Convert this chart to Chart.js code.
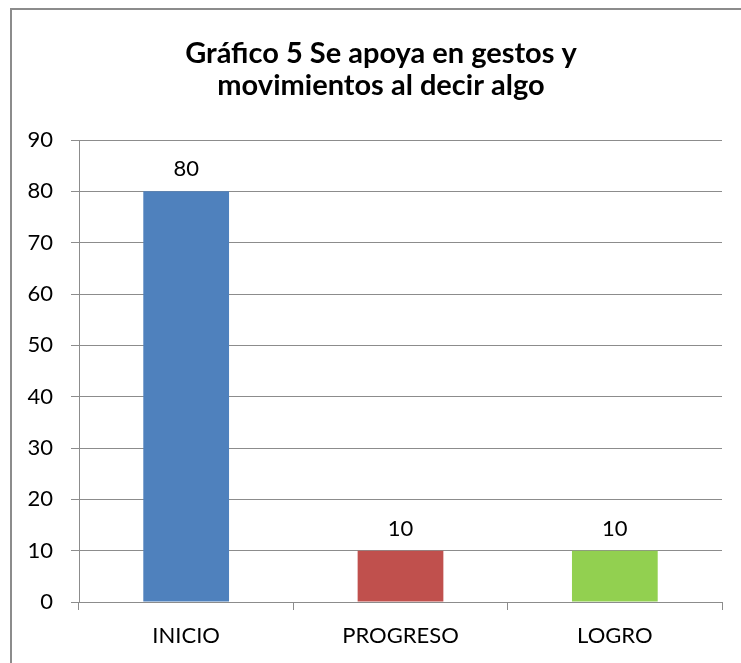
<!DOCTYPE html>
<html>
<head>
<meta charset="utf-8">
<script src="https://cdn.jsdelivr.net/npm/chart.js@4/dist/chart.umd.min.js"></script>
<style>
  html, body { margin: 0; padding: 0; background: #fff; }
  #wrap { position: relative; width: 741px; height: 663px; overflow: hidden; }
  #frame { position: absolute; left: 10px; top: 8px; width: 760px; height: 700px;
           border: 2px solid #8c8c8c; box-sizing: border-box; }
  #chart { position: absolute; left: 0; top: 0; }
</style>
</head>
<body>
<div id="wrap">
  <div id="frame"></div>
  <canvas id="chart" width="741" height="663"></canvas>
</div>
<script>
const categories = ['INICIO', 'PROGRESO', 'LOGRO'];
const values = [80, 10, 10];
const barColors = ['#4F81BD', '#C0504D', '#92D050'];
const titleLines = ['Gráfico 5 Se apoya en gestos y', 'movimientos al decir algo'];

const fontFamily = 'Lato, "Open Sans", sans-serif';
const gridColor = '#8c8c8c';

// title is centred on the outer frame, not on the plot, so draw it here
const frameTitle = {
  id: 'frameTitle',
  afterDraw(chart) {
    const ctx = chart.ctx;
    ctx.save();
    ctx.fillStyle = '#000';
    ctx.font = 'bold 29px ' + fontFamily;
    ctx.textAlign = 'center';
    ctx.textBaseline = 'alphabetic';
    ctx.fillText(titleLines[0], 381, 63);
    ctx.fillText(titleLines[1], 381, 95);
    ctx.restore();
  }
};

// value labels above each bar
const barLabels = {
  id: 'barLabels',
  afterDatasetsDraw(chart) {
    const ctx = chart.ctx;
    const meta = chart.getDatasetMeta(0);
    ctx.save();
    ctx.fillStyle = '#000';
    ctx.font = '22px ' + fontFamily;
    ctx.textAlign = 'center';
    ctx.textBaseline = 'bottom';
    meta.data.forEach((bar, i) => {
      ctx.fillText(values[i], bar.x, bar.y - 11);
    });
    ctx.restore();
  }
};

new Chart(document.getElementById('chart'), {
  type: 'bar',
  data: {
    labels: categories,
    datasets: [{
      data: values,
      backgroundColor: barColors,
      barPercentage: 0.4,
      categoryPercentage: 1
    }]
  },
  options: {
    responsive: false,
    animation: false,
    layout: { padding: { left: 20, right: 19, top: 140, bottom: 0 } },
    plugins: {
      legend: { display: false },
      tooltip: { enabled: false },
      title: { display: false }
    },
    scales: {
      y: {
        min: 0,
        max: 90,
        ticks: { stepSize: 10, color: '#000', padding: 18, font: { family: fontFamily, size: 22 } },
        grid: { color: gridColor, lineWidth: 1, tickLength: 8 },
        border: { color: gridColor, width: 1 },
        afterFit(scale) { scale.width = 59; }
      },
      x: {
        ticks: { color: '#000', padding: 13, font: { family: fontFamily, size: 22 } },
        grid: { drawOnChartArea: false, color: gridColor, tickLength: 8 },
        border: { color: gridColor, width: 1 },
        afterFit(scale) { scale.height = 61; }
      }
    }
  },
  plugins: [barLabels, frameTitle]
});
</script>
</body>
</html>
